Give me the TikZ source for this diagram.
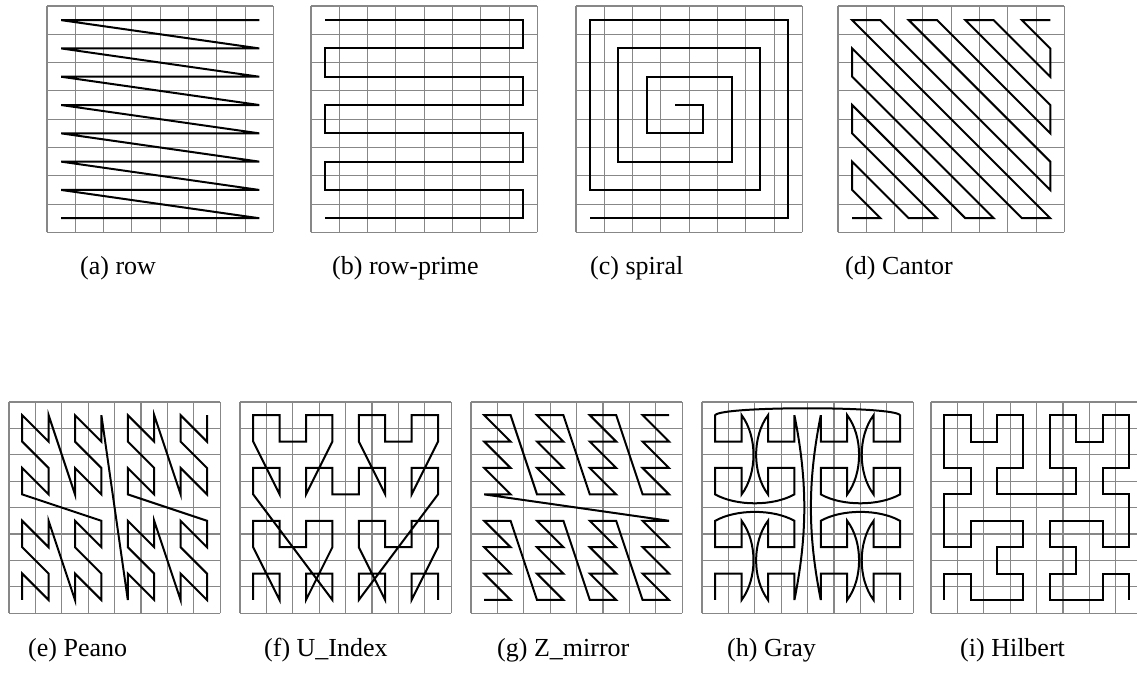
\documentclass[tikz,border=0pt]{standalone}
\usepackage{fontspec}
\setmainfont{Liberation Serif}
\definecolor{gris}{RGB}{135,135,135}
\tikzset{
  rejilla/.style={draw=gris, line width=1.1bp},
  curva/.style={draw=black, line width=2bp},
  etiqueta/.style={anchor=west, inner sep=0pt, font=\fontsize{26bp}{30bp}\selectfont}
}
% Rejilla de 8x8 celdas
\newcommand{\cuadricula}{%
  \foreach \i in {0,...,8}{\draw[rejilla] (\i,0) -- (\i,8); \draw[rejilla] (0,\i) -- (8,\i);}}

\begin{document}
\begin{tikzpicture}[x=1bp, y=1bp]
\useasboundingbox (0,0) rectangle (1137,678);

% (a) row
\begin{scope}[shift={(47,445.6)}, x=28.3bp, y=28.3bp]
  \cuadricula
  \begin{scope}[shift={(0.5,0.5)}]
    \draw[curva] (0,0) \foreach \j in {0,...,6}{-- (7,\j) -- (0,\j+1)} -- (7,7);
  \end{scope}
\end{scope}

% (b) row-prime
\begin{scope}[shift={(311,445.6)}, x=28.3bp, y=28.3bp]
  \cuadricula
  \begin{scope}[shift={(0.5,0.5)}]
    \draw[curva] (0,0) \foreach \j in {0,2,4}{-- (7,\j) -- (7,\j+1) -- (0,\j+1) -- (0,\j+2)}
      -- (7,6) -- (7,7) -- (0,7);
  \end{scope}
\end{scope}

% (c) spiral
\begin{scope}[shift={(576,445.6)}, x=28.3bp, y=28.3bp]
  \cuadricula
  \begin{scope}[shift={(0.5,0.5)}]
    \draw[curva] (0,0) -- (7,0) -- (7,7) -- (0,7) -- (0,1) -- (6,1) -- (6,6) -- (1,6) -- (1,2)
      -- (5,2) -- (5,5) -- (2,5) -- (2,3) -- (4,3) -- (4,4) -- (3,4);
  \end{scope}
\end{scope}

% (d) Cantor
\begin{scope}[shift={(838,445.6)}, x=28.3bp, y=28.3bp]
  \cuadricula
  \begin{scope}[shift={(0.5,0.5)}]
    \draw[curva] (7,7) -- (6,7) -- (7,6) -- (7,5) -- (5,7) -- (4,7) -- (7,4) -- (7,3) -- (3,7)
      -- (2,7) -- (7,2) -- (7,1) -- (1,7) -- (0,7) -- (7,0) -- (6,0) -- (0,6) -- (0,5) -- (5,0)
      -- (4,0) -- (0,4) -- (0,3) -- (3,0) -- (2,0) -- (0,2) -- (0,1) -- (1,0) -- (0,0);
  \end{scope}
\end{scope}

% (e) Peano
\begin{scope}[shift={(9,64.8)}, x=26.4bp, y=26.4bp]
  \cuadricula
  \begin{scope}[shift={(0.5,0.5)}]
    \foreach \k in {0,...,63}{
      \pgfmathtruncatemacro{\colx}{4*mod(floor(\k/32),2)+2*mod(floor(\k/8),2)+mod(floor(\k/2),2)}
      \pgfmathtruncatemacro{\filay}{4*mod(floor(\k/16),2)+2*mod(floor(\k/4),2)+mod(\k,2)}
      \coordinate (pe\k) at (\colx,\filay);
    }
    \draw[curva] (pe0) \foreach \k in {1,...,63}{-- (pe\k)};
  \end{scope}
\end{scope}

% (f) U_Index
\begin{scope}[shift={(240,64.8)}, x=26.4bp, y=26.4bp]
  \cuadricula
  \begin{scope}[shift={(0.5,0.5)}]
    \foreach \k in {0,...,63}{
      \pgfmathtruncatemacro{\da}{floor(\k/16)}
      \pgfmathtruncatemacro{\db}{mod(floor(\k/4),4)}
      \pgfmathtruncatemacro{\dc}{mod(\k,4)}
      \pgfmathtruncatemacro{\colx}{4*floor(\da/2)+2*floor(\db/2)+floor(\dc/2)}
      \pgfmathtruncatemacro{\filay}{4*mod(floor(\da/2)+\da,2)+2*mod(floor(\db/2)+\db,2)+mod(floor(\dc/2)+\dc,2)}
      \coordinate (ui\k) at (\colx,\filay);
    }
    \draw[curva] (ui0) \foreach \k in {1,...,63}{-- (ui\k)};
  \end{scope}
\end{scope}

% (g) Z_mirror
\begin{scope}[shift={(471,64.8)}, x=26.4bp, y=26.4bp]
  \cuadricula
  \begin{scope}[shift={(0.5,0.5)}]
    \foreach \k in {0,...,63}{
      \pgfmathtruncatemacro{\colx}{2*mod(floor(\k/8),4)+mod(\k,2)}
      \pgfmathtruncatemacro{\filay}{4*floor(\k/32)+mod(floor(\k/2),4)}
      \coordinate (zm\k) at (\colx,\filay);
    }
    \draw[curva] (zm0) \foreach \k in {1,...,63}{-- (zm\k)};
  \end{scope}
\end{scope}

% (h) Gray
\begin{scope}[shift={(702,64.8)}, x=26.4bp, y=26.4bp]
  \cuadricula
  \begin{scope}[shift={(0.5,0.5)}]
    \draw[curva] (7,0) -- (7,1) -- (6,1) -- (6,0)
      .. controls +(-0.6,0.8) and +(-0.6,-0.8) .. (6,3) -- (6,2) -- (7,2) -- (7,3)
      .. controls +(-0.8,0.45) and +(0.8,0.45) .. (4,3) -- (4,2) -- (5,2) -- (5,3)
      .. controls +(0.6,-0.8) and +(0.6,0.8) .. (5,0) -- (5,1) -- (4,1) -- (4,0)
      .. controls +(-0.5,2.5) and +(-0.5,-2.5) .. (4,7) -- (4,6) -- (5,6) -- (5,7)
      .. controls +(0.6,-0.8) and +(0.6,0.8) .. (5,4) -- (5,5) -- (4,5) -- (4,4)
      .. controls +(0.8,-0.45) and +(-0.8,-0.45) .. (7,4) -- (7,5) -- (6,5) -- (6,4)
      .. controls +(-0.6,0.8) and +(-0.6,-0.8) .. (6,7) -- (6,6) -- (7,6) -- (7,7)
      .. controls +(-0.2,0.35) and +(0.2,0.35) .. (0,7) -- (0,6) -- (1,6) -- (1,7)
      .. controls +(0.6,-0.8) and +(0.6,0.8) .. (1,4) -- (1,5) -- (0,5) -- (0,4)
      .. controls +(0.8,-0.45) and +(-0.8,-0.45) .. (3,4) -- (3,5) -- (2,5) -- (2,4)
      .. controls +(-0.6,0.8) and +(-0.6,-0.8) .. (2,7) -- (2,6) -- (3,6) -- (3,7)
      .. controls +(0.5,-2.5) and +(0.5,2.5) .. (3,0) -- (3,1) -- (2,1) -- (2,0)
      .. controls +(-0.6,0.8) and +(-0.6,-0.8) .. (2,3) -- (2,2) -- (3,2) -- (3,3)
      .. controls +(-0.8,0.45) and +(0.8,0.45) .. (0,3) -- (0,2) -- (1,2) -- (1,3)
      .. controls +(0.6,-0.8) and +(0.6,0.8) .. (1,0) -- (1,1) -- (0,1) -- (0,0);
  \end{scope}
\end{scope}

% (i) Hilbert
\begin{scope}[shift={(931,64.8)}, x=26.4bp, y=26.4bp]
  \cuadricula
  \begin{scope}[shift={(0.5,0.5)}]
    \draw[curva] (0,0) -- (0,1) -- (1,1) -- (1,0) -- (2,0) -- (3,0) -- (3,1) -- (2,1) -- (2,2)
      -- (3,2) -- (3,3) -- (2,3) -- (1,3) -- (1,2) -- (0,2) -- (0,3)
      -- (0,4) -- (1,4) -- (1,5) -- (0,5) -- (0,6) -- (0,7) -- (1,7) -- (1,6) -- (2,6)
      -- (2,7) -- (3,7) -- (3,6) -- (3,5) -- (2,5) -- (2,4) -- (3,4)
      -- (4,4) -- (5,4) -- (5,5) -- (4,5) -- (4,6) -- (4,7) -- (5,7) -- (5,6) -- (6,6)
      -- (6,7) -- (7,7) -- (7,6) -- (7,5) -- (6,5) -- (6,4) -- (7,4)
      -- (7,3) -- (7,2) -- (6,2) -- (6,3) -- (5,3) -- (4,3) -- (4,2) -- (5,2) -- (5,1)
      -- (4,1) -- (4,0) -- (5,0) -- (6,0) -- (6,1) -- (7,1) -- (7,0);
  \end{scope}
\end{scope}

% Etiquetas
\node[etiqueta] (et-a) at (80,410) {(a) row};
\node[etiqueta] (et-b) at (332,410) {(b) row-prime};
\node[etiqueta] (et-c) at (590,410) {(c) spiral};
\node[etiqueta] (et-d) at (845,410) {(d) Cantor};
\node[etiqueta] (et-e) at (28,28) {(e) Peano};
\node[etiqueta] (et-f) at (264,28) {(f) U\_Index};
\node[etiqueta] (et-g) at (497,28) {(g) Z\_mirror};
\node[etiqueta] (et-h) at (727,28) {(h) Gray};
\node[etiqueta] (et-i) at (960,28) {(i) Hilbert};
\end{tikzpicture}
\end{document}
